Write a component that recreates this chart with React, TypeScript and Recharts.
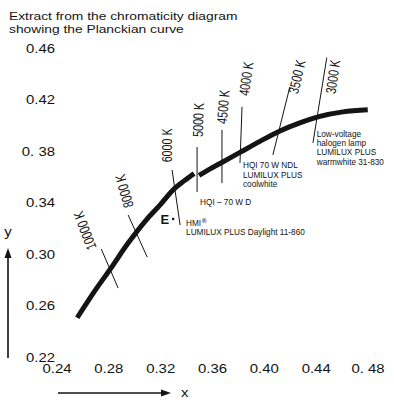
import React from 'react';
import { ComposedChart, Line, Scatter, XAxis, YAxis, ReferenceLine } from 'recharts';

// axis ticks as printed (the scan has a stray space in two of them)
const xTicks = [0.24, 0.28, 0.32, 0.36, 0.4, 0.44, 0.48];
const xTickLabels = ['0.24', '0.28', '0.32', '0.36', '0.40', '0.44', '0. 48'];
const yTicks = [0.22, 0.26, 0.3, 0.34, 0.38, 0.42, 0.46];
const yTickLabels = ['0.22', '0.26', '0.30', '0.34', '0. 38', '0.42', '0.46'];

// Planckian locus, the print breaks it just past 5000 K
const locusHot = [
  { x: 0.2556, y: 0.2505 },
  { x: 0.268, y: 0.2696 },
  { x: 0.2811, y: 0.2883 },
  { x: 0.2949, y: 0.3085 },
  { x: 0.3088, y: 0.3264 },
  { x: 0.3196, y: 0.3381 },
  { x: 0.3288, y: 0.349 },
  { x: 0.3381, y: 0.3568 },
  { x: 0.3458, y: 0.3626 },
];
const locusWarm = [
  { x: 0.3496, y: 0.361 },
  { x: 0.3581, y: 0.3661 },
  { x: 0.3658, y: 0.3703 },
  { x: 0.3812, y: 0.3789 },
  { x: 0.3966, y: 0.3875 },
  { x: 0.412, y: 0.3956 },
  { x: 0.4274, y: 0.4019 },
  { x: 0.4429, y: 0.4069 },
  { x: 0.4606, y: 0.4104 },
  { x: 0.4798, y: 0.412 },
];

// isotherms: name, upper and lower end of the short line, where the name sits
const isothermNames = ['10000 K', '8000 K', '6000 K', '5000 K', '4500 K', '4000 K', '3500 K', '3000 K'];
const isothermTop = [
  { x: 0.2742, y: 0.3038 },
  { x: 0.2949, y: 0.3303 },
  { x: 0.3288, y: 0.3653 },
  { x: 0.3481, y: 0.3831 },
  { x: 0.3673, y: 0.3964 },
  { x: 0.3828, y: 0.4143 },
  { x: 0.4197, y: 0.4299 },
  { x: 0.4482, y: 0.4525 },
];
const isothermBottom = [
  { x: 0.2872, y: 0.2735 },
  { x: 0.3096, y: 0.2976 },
  { x: 0.335, y: 0.3225 },
  { x: 0.3481, y: 0.3482 },
  { x: 0.3673, y: 0.3551 },
  { x: 0.3812, y: 0.3707 },
  { x: 0.4066, y: 0.377 },
  { x: 0.4375, y: 0.3863 },
];
const isothermLabelAt = [
  { x: 0.2614, y: 0.3182 },
  { x: 0.2918, y: 0.3489 },
  { x: 0.325, y: 0.3844 },
  { x: 0.3489, y: 0.4042 },
  { x: 0.3681, y: 0.4143 },
  { x: 0.3858, y: 0.4361 },
  { x: 0.4251, y: 0.4377 },
  { x: 0.4528, y: 0.4377 },
];
const labelTilt = [-111, -106, -90, -88, -85, -82, -77, -82];

// lamp notes, anchored at the start of their first line
const noteAt = [
  { x: 0.4404, y: 0.391 },
  { x: 0.3835, y: 0.3665 },
  { x: 0.3504, y: 0.3384 },
  { x: 0.3396, y: 0.3217 },
];
const noteLines = [
  ['Low-voltage', 'halogen lamp', 'LUMILUX PLUS', 'warmwhite 31-830'],
  ['HQI 70 W NDL', 'LUMILUX PLUS', 'coolwhite'],
  ['HQI \u2013 70 W D'],
  ['HMI\u00ae', 'LUMILUX PLUS Daylight 11-860'],
];

// equal energy point
const pointE = [{ x: 0.3296, y: 0.3272, name: 'E' }];

const INK = '#141414';
const FONT = "'Liberation Sans', Arial, Helvetica, sans-serif";

const isotherms = isothermNames.map((name, i) => ({ ...isothermLabelAt[i], name, tilt: labelTilt[i] }));
const notes = noteAt.map((p, i) => ({ ...p, lines: noteLines[i] }));

const XTick = (props: any) => {
  const { x, y, payload } = props;
  const i = xTicks.indexOf(payload.value);
  return (
    <text transform={`translate(${x},${y}) scale(1.15,1)`} textAnchor="middle" dy="0.71em"
      fontSize={13} fontFamily={FONT} fill={INK}>
      {xTickLabels[i]}
    </text>
  );
};

const YTick = (props: any) => {
  const { x, y, payload } = props;
  const i = yTicks.indexOf(payload.value);
  return (
    <text transform={`translate(${x},${y}) scale(1.15,1)`} textAnchor="end" dy="0.36em"
      fontSize={13} fontFamily={FONT} fill={INK}>
      {yTickLabels[i]}
    </text>
  );
};

const IsothermLabel = (props: any) => {
  const { cx, cy, payload } = props;
  return (
    <text transform={`translate(${cx},${cy}) rotate(${payload.tilt}) scale(0.86,1.15)`}
      textAnchor="middle" dy="0.36em" fontSize={12.5} fontFamily={FONT} fill={INK}>
      {payload.name}
    </text>
  );
};

// the registered sign is printed small and raised
const noteText = (t: string) => {
  const j = t.indexOf('\u00ae');
  if (j < 0) return t;
  return (
    <>
      {t.slice(0, j)}
      <tspan fontSize={7} dy={-3} fontFamily="'DejaVu Sans', sans-serif">{t[j]}</tspan>
    </>
  );
};

const Note = (props: any) => {
  const { cx, cy, payload } = props;
  return (
    <g transform={`translate(${cx},${cy}) scale(0.84,1)`} fill={INK}>
      {payload.lines.map((t: string, k: number) => (
        <text key={k} x={0} y={k * 9.3} fontSize={9.8} fontFamily={FONT} fill={INK}>{noteText(t)}</text>
      ))}
    </g>
  );
};

const EPoint = (props: any) => {
  const { cx, cy, payload } = props;
  return (
    <g>
      <circle cx={cx} cy={cy} r={1.3} fill={INK} />
      <text x={cx - 4} y={cy} dy="0.36em" textAnchor="end" fontSize={13} fontWeight="bold"
        fontFamily={FONT} fill={INK}>{payload.name}</text>
    </g>
  );
};

export default function App() {
  return (
    <div style={{ position: 'absolute', left: 0, top: 0, width: 394, height: 402, background: '#fff' }}>
      <ComposedChart width={394} height={402} margin={{ top: 48, right: 26, left: 10, bottom: 0 }}>
        <XAxis type="number" dataKey="x" domain={[0.24, 0.48]} ticks={xTicks}
          axisLine={false} tickLine={false} tickSize={0} tickMargin={7} height={45} tick={<XTick />} />
        <YAxis type="number" dataKey="y" domain={[0.22, 0.46]} ticks={yTicks}
          axisLine={false} tickLine={false} tickSize={0} tickMargin={2} width={47} tick={<YTick />} />
        {isothermNames.map((name, i) => (
          <ReferenceLine key={name} segment={[isothermTop[i], isothermBottom[i]]} stroke={INK} strokeWidth={1} />
        ))}
        <Line data={locusHot} dataKey="y" type="monotone" stroke={INK} strokeWidth={5} dot={false}
          activeDot={false} isAnimationActive={false} />
        <Line data={locusWarm} dataKey="y" type="monotone" stroke={INK} strokeWidth={5} dot={false}
          activeDot={false} isAnimationActive={false} />
        <Scatter data={isotherms} dataKey="y" shape={<IsothermLabel />} isAnimationActive={false} />
        <Scatter data={notes} dataKey="y" shape={<Note />} isAnimationActive={false} />
        <Scatter data={pointE} dataKey="y" shape={<EPoint />} isAnimationActive={false} />
      </ComposedChart>
      <svg width={394} height={402} style={{ position: 'absolute', left: 0, top: 0, pointerEvents: 'none' }}>
        <g fontFamily={FONT} fill={INK}>
          <text transform="translate(9,19.5) scale(1.17,1)" fontSize={11.8}>Extract from the chromaticity diagram</text>
          <text transform="translate(9,33) scale(1.17,1)" fontSize={11.8}>showing the Planckian curve</text>
          <text transform="translate(8,236) scale(1.15,1)" fontSize={13} textAnchor="middle">y</text>
          <text transform="translate(181,397) scale(1.15,1)" fontSize={13}>x</text>
        </g>
        <line x1={8} y1={358} x2={8} y2={256} stroke={INK} strokeWidth={1.6} />
        <polygon points="8,248 4.5,258 11.5,258" fill={INK} />
        <line x1={58} y1={393} x2={162} y2={393} stroke={INK} strokeWidth={1.4} />
        <polygon points="171,393 161,389.5 161,396.5" fill={INK} />
      </svg>
    </div>
  );
}
